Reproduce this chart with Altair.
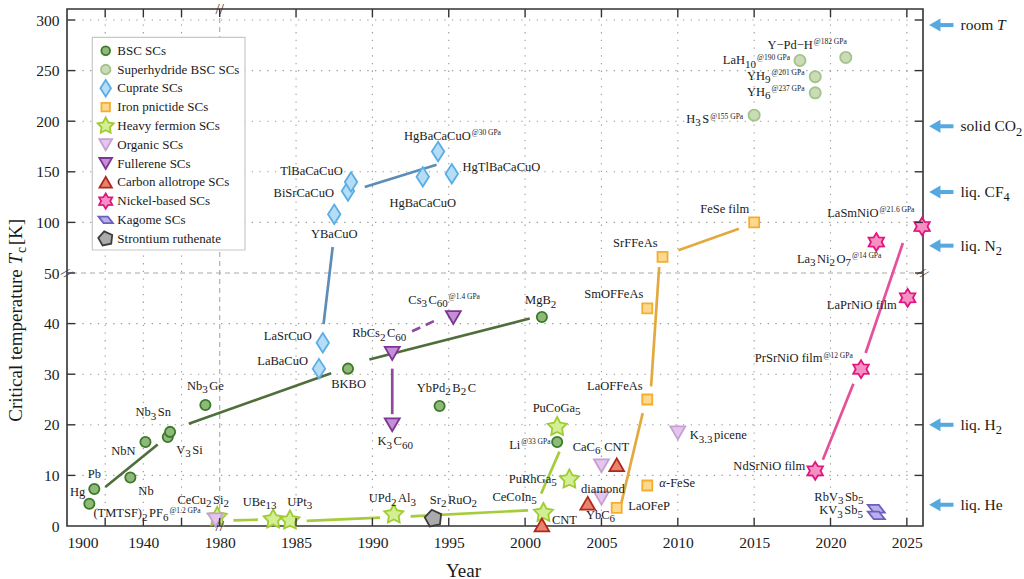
import math
import altair as alt
import pandas as pd

FONT = "Liberation Serif"
INK = "#1a1a1a"

# ---------------- values ----------------
categories = ["BSC SCs", "Superhydride BSC SCs", "Cuprate SCs", "Iron pnictide SCs",
              "Heavy fermion SCs", "Organic SCs", "Fullerene SCs", "Carbon allotrope SCs",
              "Nickel-based SCs", "Kagome SCs", "Strontium ruthenate"]

bsc_label = ["Hg", "Pb", "Nb", "NbN", "V_{3}Si", "Nb_{3}Sn", "Nb_{3}Ge", "BKBO",
             "YbPd_{2}B_{2}C", "MgB_{2}", "Li^{@33 GPa}"]
bsc_year = [1911.7, 1914.3, 1933.2, 1941.1, 1952.8, 1954.0, 1972.5, 1988.4, 1994.4, 2001.1, 2002.1]
bsc_tc = [4.4, 7.3, 9.6, 16.6, 17.6, 18.6, 23.9, 31.1, 23.7, 41.3, 16.6]

hyd_label = ["H_{3}S^{@155 GPa}", "YH_{6}^{@237 GPa}", "YH_{9}^{@201 GPa}",
             "LaH_{10}^{@190 GPa}", "Y−Pd−H^{@182 GPa}"]
hyd_year = [2015.0, 2019.0, 2019.0, 2018.0, 2021.0]
hyd_tc = [206, 228, 244, 260, 263]

cup_label = ["LaBaCuO", "LaSrCuO", "YBaCuO", "BiSrCaCuO", "TlBaCaCuO", "HgBaCaCuO",
             "HgBaCaCuO^{@30 GPa}", "HgTlBaCaCuO"]
cup_year = [1986.5, 1986.75, 1987.5, 1988.4, 1988.6, 1993.3, 1994.3, 1995.2]
cup_tc = [31.1, 36.2, 108, 131, 140, 145, 170, 148]

fe_label = ["LaOFeP", "*{α}-FeSe", "LaOFFeAs", "SmOFFeAs", "SrFFeAs", "FeSe film"]
fe_year = [2006.0, 2008.0, 2008.0, 2008.0, 2009.0, 2015.0]
fe_tc = [3.6, 8.0, 25.0, 43.0, 66, 100]

hf_label = ["CeCu_{2}Si_{2}", "UBe_{13}", "UPt_{3}", "UPd_{2}Al_{3}", "CeCoIn_{5}",
            "PuRhGa_{5}", "PuCoGa_{5}"]
hf_year = [1978.7, 1983.5, 1984.6, 1991.4, 2001.2, 2002.9, 2002.1]
hf_tc = [1.8, 1.3, 1.1, 2.3, 2.6, 9.2, 19.6]

org_label = ["(TMTSF)_{2}PF_{6}^{@1.2 GPa}", "CaC_{6}", "YbC_{6}", "K_{3.3} picene"]
org_year = [1977.8, 2005.0, 2005.0, 2010.0]
org_tc = [1.2, 11.9, 5.5, 18.4]

ful_label = ["K_{3}C_{60}", "RbCs_{2}C_{60}", "Cs_{3}C_{60}^{@1.4 GPa}"]
ful_year = [1991.3, 1991.3, 1995.3]
ful_tc = [20.0, 34.1, 41.2]

car_label = ["CNT", "diamond", "CNT"]
car_year = [2001.1, 2004.1, 2006.0]
car_tc = [0.2, 4.5, 12.1]

ni_label = ["NdSrNiO film", "PrSrNiO film^{@12 GPa}", "LaPrNiO film",
            "La_{3}Ni_{2}O_{7}^{@14 GPa}", "LaSmNiO^{@21.6 GPa}"]
ni_year = [2019.0, 2022.0, 2025.05, 2023.0, 2026.0]
ni_tc = [10.9, 31.0, 45.1, 80.6, 96]

kag_label = ["RbV_{3}Sb_{5}", "KV_{3}Sb_{5}"]
kag_year = [2023.0, 2023.0]
kag_tc = [3.4, 2.1]

sro_label = ["Sr_{2}RuO_{2}"]
sro_year = [1994.0]
sro_tc = [1.5]

# trend segments (year1, Tc1, year2, Tc2)
bsc_seg = [(1920.1, 7.7, 1947.5, 16.1), (1963.8, 20.2, 1987.3, 30.2), (1989.8, 32.9, 2000.3, 41.0)]
cup_seg = [(1986.8, 39.9, 1987.4, 75.7), (1989.5, 135, 1994.2, 157)]
fe_seg = [(2006.3, 4.5, 2007.7, 22.3), (2008.25, 27.6, 2008.78, 55.9), (2010.04, 72.4, 2014.0, 93.8)]
hf_seg = [(1980.9, 1.1, 1982.5, 1.25), (1985.7, 1.0, 1990.5, 1.65), (1992.5, 1.9, 2000.2, 3.1),
          (2001.05, 6.4, 2002.25, 14.7)]
ful_seg = [(1991.3, 31.1, 1991.3, 22.1)]
ful_seg_dashed = [(1992.6, 38.5, 1994.25, 40.8)]
ni_seg = [(2019.5, 13.1, 2021.5, 28.1), (2022.3, 34.2, 2024.74, 79.6)]

# reference temperatures on the right
ref_label = ["room *{T}", "solid CO_{2}", "liq. CF_{4}", "liq. N_{2}", "liq. H_{2}", "liq. He"]
ref_tc = [295, 195, 130, 77, 20, 4.2]

# axes
x_label_years = [1900, 1940, 1980, 1985, 1990, 1995, 2000, 2005, 2010, 2015, 2020, 2025]
x_grid_years = [1920, 1940, 1960, 1985, 1990, 1995, 2000, 2005, 2010, 2015, 2020, 2025]
x_tick_years = [1920, 1940, 1960, 1980, 1985, 1990, 1995, 2000, 2005, 2010, 2015, 2020, 2025]
y_label_tc = [0, 10, 20, 30, 40, 50, 100, 150, 200, 250, 300]
y_grid_tc = [10, 20, 30, 40, 100, 150, 200, 250, 300]

# ---------------- label placement (align, dx px, dy px) ----------------
bsc_place = [("right", -4, -11.6), ("center", 0, -15), ("left", 8, 13.4), ("right", -10, 9),
             ("left", 8.4, 13.3), ("right", 1, -19.4), ("center", 0, -19), ("center", 0.6, 15),
             ("center", 6.8, -18.4), ("center", -1.2, -16.7), ("right", -6.7, 2.6)]
hyd_place = [("right", -11, 4), ("right", -10.7, -1), ("right", -10.7, -0.7), ("right", -10, 0),
             ("right", 1, -12.7)]
cup_place = [("right", -11, -7.3), ("right", -11, -6.7), ("center", 0, 20), ("right", -14, 1.7),
             ("right", -8.3, -10.7), ("center", 0, 26), ("left", -34, -15.7), ("left", 10.7, -6.6)]
fe_place = [("left", 11.6, -1.7), ("left", 12, -2.6), ("right", -4.6, -13.7), ("right", -4, -14),
            ("right", -5, -13.4), ("right", -5, -13.4)]
hf_place = [("center", -14, -17), ("right", 3.4, -17.6), ("left", -2.6, -18.3), ("center", -1.5, -16),
            ("right", -6.6, -15.6), ("right", -12.7, -0.3), ("center", -0.6, -19)]
org_place = [("right", -15, -6.5), ("right", -1, -18.7), ("center", -1, 16.7), ("left", 12, 2.4)]
ful_place = [("center", 3, 16.6), ("right", 14, -20), ("left", -45, -17.6)]
car_place = [("left", 10, -5), ("left", -6.6, -14.3), ("center", 0, -17.7)]
ni_place = [("right", -10, -5), ("right", -8.3, -10.7), ("right", -11, 7.3), ("right", 5, 16.6),
            ("right", -7.7, -13.7)]
kag_place = [("right", -12.7, -11.6), ("right", -13.3, -5)]
sro_place = [("left", -3.7, -18.3)]

# ---------------- geometry of the broken axes ----------------
PXX = 15.27
PXY = 5.06
W, H = 856, 517
XMIN = 1970.0
XMAX = XMIN + W / PXX
YMAX = H / PXY


def xd(year):
    return year if year >= 1980 else 1980 - (1980 - year) / 8.0


def yd(tc):
    return tc if tc <= 50 else 50 + (tc - 50) / 5.0


def p2x(px):
    return XMIN + px / PXX


def p2y(py):
    return YMAX - py / PXY


# ---------------- marker shapes ----------------
def poly_path(n, r_in=None, rot=0.0):
    m = 2 * n if r_in else n
    pts = []
    for k in range(m):
        r = r_in if (r_in and k % 2) else 1.0
        a = 2 * math.pi * k / m + rot
        pts.append((r * math.sin(a), -r * math.cos(a)))
    return "M" + "L".join(f"{x:.3f},{y:.3f}" for x, y in pts) + "Z"


STAR5 = poly_path(5, 0.52)
STAR6 = poly_path(6, 0.6)
PENT = poly_path(5, None, -0.2)
DIAM = "M0,-1L0.64,0L0,1L-0.64,0Z"
PARA = "M-1,-0.45L0.3,-0.45L1,0.45L-0.3,0.45Z"

style = {
    "BSC SCs": ("circle", 105, "#8fb97b", "#3c7a28"),
    "Superhydride BSC SCs": ("circle", 125, "#c9dcb6", "#a5c28c"),
    "Cuprate SCs": (DIAM, 380, "#b5ddf5", "#5aaee3"),
    "Iron pnictide SCs": ("square", 100, "#fdd88f", "#f3ae2f"),
    "Heavy fermion SCs": (STAR5, 400, "#d3ee95", "#9fcc30"),
    "Organic SCs": ("triangle-down", 225, "#e4c6ea", "#c89fd5"),
    "Fullerene SCs": ("triangle-down", 225, "#c58fd8", "#7d3593"),
    "Carbon allotrope SCs": ("triangle-up", 215, "#e9836e", "#b0281a"),
    "Nickel-based SCs": (STAR6, 320, "#f68fc2", "#e0157f"),
    "Kagome SCs": (PARA, 290, "#b7b0ea", "#6c5fc0"),
    "Strontium ruthenate": (PENT, 310, "#ababab", "#3c3c3c"),
}
line_color = {"bsc": "#4e6e3a", "cup": "#5b8db8", "fe": "#e3a93f", "hf": "#a6cc3c",
              "ful": "#8e4b9e", "ni": "#e4509a"}
ARROW = "#56a8e0"

series = [
    ("BSC SCs", bsc_label, bsc_year, bsc_tc, bsc_place),
    ("Superhydride BSC SCs", hyd_label, hyd_year, hyd_tc, hyd_place),
    ("Cuprate SCs", cup_label, cup_year, cup_tc, cup_place),
    ("Iron pnictide SCs", fe_label, fe_year, fe_tc, fe_place),
    ("Heavy fermion SCs", hf_label, hf_year, hf_tc, hf_place),
    ("Strontium ruthenate", sro_label, sro_year, sro_tc, sro_place),
    ("Organic SCs", org_label, org_year, org_tc, org_place),
    ("Fullerene SCs", ful_label, ful_year, ful_tc, ful_place),
    ("Carbon allotrope SCs", car_label, car_year, car_tc, car_place),
    ("Nickel-based SCs", ni_label, ni_year, ni_tc, ni_place),
    ("Kagome SCs", kag_label, kag_year, kag_tc, kag_place),
]

# ---------------- rich-text layout (Times metrics) ----------------
TW = {'A': 722, 'B': 667, 'C': 667, 'D': 722, 'E': 611, 'F': 556, 'G': 722, 'H': 722, 'I': 333,
      'J': 389, 'K': 722, 'L': 611, 'M': 889, 'N': 722, 'O': 722, 'P': 556, 'Q': 722, 'R': 667,
      'S': 556, 'T': 611, 'U': 722, 'V': 722, 'W': 944, 'X': 722, 'Y': 722, 'Z': 611,
      'a': 444, 'b': 500, 'c': 444, 'd': 500, 'e': 444, 'f': 333, 'g': 500, 'h': 500, 'i': 278,
      'j': 278, 'k': 500, 'l': 278, 'm': 778, 'n': 500, 'o': 500, 'p': 500, 'q': 500, 'r': 333,
      's': 389, 't': 278, 'u': 500, 'v': 500, 'w': 722, 'x': 500, 'y': 500, 'z': 444,
      ' ': 250, '@': 921, '(': 333, ')': 333, '.': 250, '-': 333, '−': 564, 'α': 540,
      '[': 333, ']': 333}


def tw(s, fs):
    return sum(TW.get(ch, 500) for ch in s) * fs / 1000.0


def parse(s):
    parts, buf, i = [], "", 0
    kinds = {"_": "sub", "^": "sup", "*": "it"}
    while i < len(s):
        c = s[i]
        if c in kinds and i + 1 < len(s) and s[i + 1] == "{":
            if buf:
                parts.append(("n", buf))
                buf = ""
            j = s.index("}", i)
            parts.append((kinds[c], s[i + 2:j]))
            i = j + 1
        else:
            buf += c
            i += 1
    if buf:
        parts.append(("n", buf))
    return parts


def layout(markup, fs, sub_scale=0.88):
    parts = parse(markup)
    out, cur = [], 0.0
    for i, (kind, txt) in enumerate(parts):
        if kind == "sub":
            size, off = fs * sub_scale, fs * 0.34
        elif kind == "sup":
            size, off = fs * 0.6, -fs * 0.2
            cur += 1.0
        else:
            size, off = fs, 0.0
        out.append(dict(t=txt, size=size, off=off, px=cur, it=1 if kind == "it" else 0))
        cur += tw(txt, size)
        if kind == "sub" and i < len(parts) - 1 and parts[i + 1][0] != "sup":
            cur += 1.5
    return out, cur


text_rows = []


def add_label(markup, xv, yv, align, dx, dy, fs, sub_scale=0.88):
    parts, total = layout(markup, fs, sub_scale)
    start = dx - {"left": 0.0, "center": total / 2, "right": total}[align]
    for p in parts:
        text_rows.append(dict(x=xv + (start + p["px"]) / PXX, y=yv - (dy + p["off"]) / PXY,
                              t=p["t"], size=p["size"], it=p["it"]))


# ---------------- build tables ----------------
pt_rows = []
for cat, labels, years, tcs, places in series:
    shp, sz, fill, stroke = style[cat]
    for lab, yr, tc, (al, dx, dy) in zip(labels, years, tcs, places):
        xv, yv = xd(yr), yd(tc)
        pt_rows.append(dict(x=xv, y=yv, shape=shp, size=sz, fill=fill, stroke=stroke))
        add_label(lab, xv, yv, al, dx, dy, 12.5)

# legend
LBOX = (25.3, 28.3, 178.0, 241.0)
for i, cat in enumerate(categories):
    shp, sz, fill, stroke = style[cat]
    py = 41.7 + 18.8 * i
    pt_rows.append(dict(x=p2x(38.7), y=p2y(py), shape=shp, size=sz * 0.72, fill=fill, stroke=stroke))
    add_label(cat, p2x(50.3), p2y(py), "left", 0, 0, 13)

# reference temperature labels and arrows
arrow_rows = []
for lab, tc in zip(ref_label, ref_tc):
    yv = yd(tc)
    arrow_rows.append(dict(xh=XMAX + 11.8 / PXX, xt=XMAX + 30.5 / PXX, y=yv))
    add_label(lab, XMAX, yv, "left", 37.5, 0, 15.5, 0.8)

seg_rows = []
for key, segs in [("bsc", bsc_seg), ("cup", cup_seg), ("fe", fe_seg), ("hf", hf_seg),
                  ("ful", ful_seg), ("ni", ni_seg)]:
    for a, b, c, d in segs:
        seg_rows.append(dict(x=xd(a), y=yd(b), x2=xd(c), y2=yd(d), col=line_color[key]))
dash_rows = [dict(x=xd(a), y=yd(b), x2=xd(c), y2=yd(d)) for a, b, c, d in ful_seg_dashed]

# y title (rotated)
ytitle_rows = []
yparts, ytotal = layout("Critical temperature *{T}_{c} [K]", 19, 0.72)
Y0 = 309 + ytotal / 2
for p in yparts:
    ytitle_rows.append(dict(x=p2x(-51 + p["off"]), y=p2y(Y0 - p["px"]), t=p["t"], size=p["size"], it=p["it"]))

pts = pd.DataFrame(pt_rows)
texts = pd.DataFrame(text_rows)
segs = pd.DataFrame(seg_rows)
dashes = pd.DataFrame(dash_rows)
arrows = pd.DataFrame(arrow_rows)
ytitle = pd.DataFrame(ytitle_rows)

gx = pd.DataFrame({"x": [xd(v) for v in x_grid_years]})
gy = pd.DataFrame({"y": [yd(v) for v in y_grid_tc]})
tx = pd.DataFrame({"x": [xd(v) for v in x_tick_years]})
ty = pd.DataFrame({"y": [yd(v) for v in y_label_tc[1:]]})

XS = alt.Scale(domain=[XMIN, XMAX], nice=False, zero=False)
YS = alt.Scale(domain=[0, YMAX], nice=False, zero=False)

x_axis = alt.Axis(values=[xd(v) for v in x_label_years],
                  labelExpr="datum.value < 1980 ? format(1980 - (1980 - datum.value) * 8, 'd') : format(datum.value, 'd')",
                  title="Year", grid=False, ticks=False, domain=False, labelFont=FONT, labelFontSize=15.5,
                  labelColor=INK, labelPadding=9, labelOverlap=False, titleFont=FONT, titleFontSize=19,
                  titleFontWeight="normal", titleColor=INK, titleX=396, titleY=44, titleAlign="center",
                  titleBaseline="middle")
y_axis = alt.Axis(values=[yd(v) for v in y_label_tc],
                  labelExpr="datum.value <= 50 ? format(datum.value, 'd') : format(50 + (datum.value - 50) * 5, 'd')",
                  title=None, grid=False, ticks=False, domain=False, labelFont=FONT, labelFontSize=15.5,
                  labelColor=INK, labelPadding=8, labelOverlap=False)


def X(f="x"):
    return alt.X(f"{f}:Q", scale=XS, axis=x_axis)


def Y(f="y"):
    return alt.Y(f"{f}:Q", scale=YS, axis=y_axis)


GRID = dict(color="#9a9a9a", strokeWidth=1.1, strokeDash=[1.3, 6.4])
grid_v = alt.Chart(gx).mark_rule(**GRID).encode(x=X())
grid_h = alt.Chart(gy).mark_rule(**GRID).encode(y=Y())
brk_df = pd.DataFrame({"x": [1980.0], "y": [50.0]})
brk_v = alt.Chart(brk_df).mark_rule(color="#aaaaaa", strokeWidth=1.1, strokeDash=[5, 4]).encode(x=X())
brk_h = alt.Chart(brk_df).mark_rule(color="#aaaaaa", strokeWidth=1.1, strokeDash=[5, 4]).encode(y=Y())

box_df = pd.DataFrame([dict(x=p2x(LBOX[0]), x2=p2x(LBOX[2]), y=p2y(LBOX[1]), y2=p2y(LBOX[3]))])
box = alt.Chart(box_df).mark_rect(fill="white", stroke="#c8c8c8", strokeWidth=1.2).encode(
    x=X(), x2="x2:Q", y=Y(), y2="y2:Q")

seg_layer = alt.Chart(segs).mark_rule(strokeWidth=2.7, strokeCap="butt").encode(
    x=X(), x2="x2:Q", y=Y(), y2="y2:Q", color=alt.Color("col:N", scale=None))
dash_layer = alt.Chart(dashes).mark_rule(strokeWidth=2.7, strokeDash=[9, 6], color=line_color["ful"]).encode(
    x=X(), x2="x2:Q", y=Y(), y2="y2:Q")

pt_layer = alt.Chart(pts).mark_point(filled=True, strokeWidth=1.8, opacity=1, fillOpacity=1).encode(
    x=X(), y=Y(),
    shape=alt.Shape("shape:N", scale=None),
    size=alt.Size("size:Q", scale=None),
    fill=alt.Fill("fill:N", scale=None),
    stroke=alt.Stroke("stroke:N", scale=None),
)

txt_n = alt.Chart(texts).transform_filter("datum.it == 0").mark_text(
    align="left", baseline="middle", font=FONT, color=INK).encode(
    x=X(), y=Y(), text="t:N", size=alt.Size("size:Q", scale=None))
txt_i = alt.Chart(texts).transform_filter("datum.it == 1").mark_text(
    align="left", baseline="middle", font=FONT, color=INK, fontStyle="italic").encode(
    x=X(), y=Y(), text="t:N", size=alt.Size("size:Q", scale=None))

yt_n = alt.Chart(ytitle).transform_filter("datum.it == 0").mark_text(
    align="left", baseline="middle", font=FONT, color=INK, angle=270).encode(
    x=X(), y=Y(), text="t:N", size=alt.Size("size:Q", scale=None))
yt_i = alt.Chart(ytitle).transform_filter("datum.it == 1").mark_text(
    align="left", baseline="middle", font=FONT, color=INK, angle=270, fontStyle="italic").encode(
    x=X(), y=Y(), text="t:N", size=alt.Size("size:Q", scale=None))

TK = dict(color="#333333", strokeWidth=1.4)
tick_b = alt.Chart(tx).transform_calculate(y0="0", y1=f"{8 / PXY}").mark_rule(**TK).encode(
    x=X(), y=Y("y0"), y2="y1:Q")
tick_t = alt.Chart(tx).transform_calculate(y0=f"{YMAX}", y1=f"{YMAX - 8 / PXY}").mark_rule(**TK).encode(
    x=X(), y=Y("y0"), y2="y1:Q")
tick_l = alt.Chart(ty).transform_calculate(x0=f"{XMIN}", x1=f"{XMIN + 8 / PXX}").mark_rule(**TK).encode(
    y=Y(), x=X("x0"), x2="x1:Q")
tick_r = alt.Chart(ty).transform_calculate(x0=f"{XMAX}", x1=f"{XMAX - 8 / PXX}").mark_rule(**TK).encode(
    y=Y(), x=X("x0"), x2="x1:Q")

arrow_line = alt.Chart(arrows).mark_rule(color=ARROW, strokeWidth=4).encode(x=X("xh"), x2="xt:Q", y=Y())
arrow_head = alt.Chart(arrows).mark_point(shape="triangle-left", filled=True, size=170, color=ARROW,
                                          opacity=1).encode(x=X("xh"), y=Y())

bx = pd.DataFrame({"x": [1980.0, 1980.0], "y": [YMAX, 0.0], "t": ["//", "//"]})
by = pd.DataFrame({"x": [XMIN, XMAX], "y": [50.0, 50.0], "t": ["//", "//"]})
brk_x = alt.Chart(bx).mark_text(font=FONT, fontSize=15, color="#333333", align="center",
                                baseline="middle").encode(x=X(), y=Y(), text="t:N")
brk_y = alt.Chart(by).mark_text(font=FONT, fontSize=15, color="#333333", align="center",
                                baseline="middle", angle=40).encode(x=X(), y=Y(), text="t:N")

chart = alt.layer(
    grid_v, grid_h, brk_v, brk_h, box, seg_layer, dash_layer, pt_layer, txt_n, txt_i,
    tick_b, tick_t, tick_l, tick_r, arrow_line, arrow_head, brk_x, brk_y, yt_n, yt_i,
).properties(
    width=W, height=H,
    padding={"left": 67, "top": 9, "right": 101, "bottom": 53},
    autosize=alt.AutoSizeParams(type="none"),
    background="white",
).configure_view(stroke="#333333", strokeWidth=1.6)

chart.save("out.html", embed_options={"renderer": "svg", "actions": False})
